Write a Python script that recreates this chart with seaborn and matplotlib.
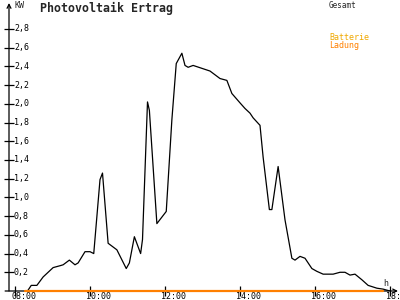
import matplotlib
matplotlib.use("Agg")
import matplotlib.pyplot as plt
import matplotlib.transforms as mtransforms
import seaborn as sns
import pandas as pd

# ---- data ----
gesamt_times = ["08:20", "08:26", "08:35", "08:45", "09:01", "09:12", "09:17", "09:27",
                "09:36", "09:41", "09:52", "10:00", "10:06", "10:16", "10:20", "10:29",
                "10:43", "10:58", "11:03", "11:11", "11:21", "11:24", "11:32", "11:35",
                "11:47", "12:02", "12:11", "12:18", "12:27", "12:32", "12:37", "12:45",
                "13:12", "13:28", "13:39", "13:47", "14:00", "14:08", "14:16", "14:21",
                "14:32", "14:37", "14:47", "14:51", "15:01", "15:12", "15:23", "15:28",
                "15:36", "15:44", "15:55", "16:03", "16:13", "16:29", "16:40", "16:48",
                "16:56", "17:04", "17:15", "17:25", "17:39", "17:49", "18:00"]
gesamt_kw = [0.00, 0.06, 0.06, 0.15, 0.25, 0.27, 0.28, 0.33,
             0.28, 0.30, 0.42, 0.42, 0.40, 1.19, 1.26, 0.51,
             0.44, 0.24, 0.30, 0.58, 0.40, 0.55, 2.02, 1.93,
             0.72, 0.85, 1.83, 2.43, 2.54, 2.41, 2.39, 2.41,
             2.35, 2.27, 2.25, 2.11, 2.01, 1.95, 1.90, 1.85,
             1.77, 1.43, 0.87, 0.87, 1.33, 0.76, 0.35, 0.33,
             0.37, 0.35, 0.24, 0.21, 0.18, 0.18, 0.20, 0.20,
             0.17, 0.18, 0.12, 0.06, 0.03, 0.02, 0.00]
ladung_times = ["08:16", "17:49"]
ladung_kw = [0.0, 0.0]

y_ticks = [0.2, 0.4, 0.6, 0.8, 1.0, 1.2, 1.4, 1.6, 1.8, 2.0, 2.2, 2.4, 2.6, 2.8]
x_ticks = ["08:00", "10:00", "12:00", "14:00", "16:00", "18:00"]


def to_hours(t):
    h, m = t.split(":")
    return int(h) + int(m) / 60.0


df_g = pd.DataFrame({"t": [to_hours(t) for t in gesamt_times], "kw": gesamt_kw})
df_l = pd.DataFrame({"t": [to_hours(t) for t in ladung_times], "kw": ladung_kw})

sns.set_style("white")
plt.rcParams["font.family"] = ["DejaVu Sans Mono", "DejaVu Sans"]

fig = plt.figure(figsize=(4, 3), dpi=100)
ax = fig.add_axes([9 / 400, 9 / 300, 389 / 400, 288 / 300])
ax.set_xlim(8 + (9 - 15) / 37.5, 8 + (398 - 15) / 37.5)
ax.set_ylim(0, 288 / 93.6)

sns.lineplot(data=df_g, x="t", y="kw", ax=ax, color="black", linewidth=0.9,
             estimator=None, sort=False)
sns.lineplot(data=df_l, x="t", y="kw", ax=ax, color="#ff8000", linewidth=1.6,
             estimator=None, sort=False, clip_on=False, zorder=5)

for s in ax.spines.values():
    s.set_visible(False)
ax.set_xlabel("")
ax.set_ylabel("")
ax.set_xticks([to_hours(t) for t in x_ticks])
ax.set_yticks(y_ticks)
ax.set_xticklabels([])
ax.set_yticklabels([])
ax.tick_params(axis="both", direction="inout", length=7, width=0.9, color="black",
               left=True, bottom=True)

# axes with arrows
ax.annotate("", xy=(0, 1.0), xytext=(0, 0), xycoords="axes fraction",
            arrowprops=dict(arrowstyle="->", color="black", lw=0.9,
                            shrinkA=0, shrinkB=0, mutation_scale=7))
ax.annotate("", xy=(1.0, 0), xytext=(-0.01, 0), xycoords="axes fraction",
            arrowprops=dict(arrowstyle="->", color="black", lw=0.9,
                            shrinkA=0, shrinkB=0, mutation_scale=7))

fs = 6
yoff = mtransforms.offset_copy(ax.get_yaxis_transform(), fig=fig, x=5, y=0, units="dots")
for v in y_ticks:
    ax.text(0, v, f"{v:.1f}".replace(".", ","), transform=yoff, fontsize=fs,
            ha="left", va="center", color="black")

xoff = mtransforms.offset_copy(ax.get_xaxis_transform(), fig=fig, x=-4, y=-8, units="dots")
for t in x_ticks:
    ax.text(to_hours(t), 0, t, transform=xoff, fontsize=fs, ha="left", va="baseline",
            color="black", clip_on=False)

fig.text(14 / 400, 1 - 6 / 300, "KW", fontsize=fs, ha="left", va="center")
fig.text(383 / 400, 1 - 283 / 300, "h", fontsize=fs, ha="left", va="center")
fig.text(40 / 400, 1 - 8 / 300, "Photovoltaik Ertrag", fontsize=8.4,
         fontweight="bold", ha="left", va="center")
fig.text(329 / 400, 1 - 5 / 300, "Gesamt", fontsize=5.5, ha="left", va="center")
fig.text(329 / 400, 1 - 37 / 300, "Batterie", fontsize=6, ha="left", va="center",
         color="#f0a800")
fig.text(329 / 400, 1 - 45 / 300, "Ladung", fontsize=6, ha="left", va="center",
         color="#ff8000")

fig.savefig("out.png", dpi=100)
